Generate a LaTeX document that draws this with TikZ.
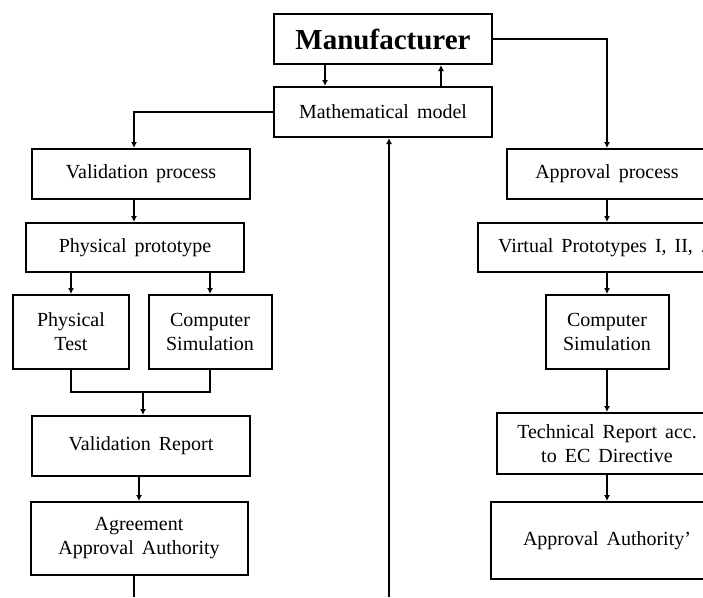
\documentclass[tikz,border=0pt]{standalone}
\usepackage{fontspec}
\setmainfont{Liberation Serif}[WordSpace=1.6]
\usetikzlibrary{arrows.meta}
\usetikzlibrary{positioning}
\usetikzlibrary{math}
\tikzstyle{box} = [rectangle, draw=black, line width=2pt, fill=white, align=center, inner sep=0pt, font=\fontsize{20}{24}\selectfont]
\tikzstyle{arrow} = [-{Latex[length=6pt,width=6pt]}]

\begin{document}
\begin{tikzpicture}[x=1pt, y=-1pt, line width=1.8pt]

  \tikzmath{\xl = 141; \xm = 383; \xr = 607;}

  \useasboundingbox[fill=white] (0,0) rectangle (703,597);
  \clip (0,0) rectangle (703,597);

  \node[box, minimum width=218pt, minimum height=50pt, font=\fontsize{29}{33}\selectfont\bfseries] (man) at (\xm,39) {Manufacturer};
  \node[box, minimum width=218pt, minimum height=50pt] (math) at (\xm,112) {Mathematical model};

  % left column
  \node[box, minimum width=218pt, minimum height=50pt] (valp) at (\xl,174) {Validation process};
  \node[box, minimum width=218pt, minimum height=49pt] (phys) at (135,247.5) {Physical prototype};
  \node[box, minimum width=116pt, minimum height=74pt] (ptest) at (71,332) {Physical\\Test};
  \node[box, minimum width=123pt, minimum height=74pt] (csim) at (210,332) {Computer\\Simulation};
  \node[box, minimum width=218pt, minimum height=60pt] (vrep) at (\xl,446) {Validation Report};
  \node[box, minimum width=217pt, minimum height=73pt] (agree) at (139,538.5) {Agreement\\Approval Authority};

  % right column
  \node[box, minimum width=200pt, minimum height=50pt] (appr) at (\xr,174) {Approval process};
  \node[box, minimum width=258pt, minimum height=49pt] (virt) at (\xr,247.5) {Virtual Prototypes I, II, ...};
  \node[box, minimum width=123pt, minimum height=74pt] (rsim) at (\xr,332) {Computer\\Simulation};
  \node[box, minimum width=220pt, minimum height=61pt] (trep) at (\xr,443.5) {Technical Report acc.\\to EC Directive};
  \node[box, minimum width=232pt, minimum height=77pt] (auth) at (\xr,540.5) {Approval Authority’};

  \coordinate (join) at (143,392);
  \coordinate (agout) at (134,597);
  \coordinate (mathin) at (389,597);

  \draw[arrow] ([xshift=-58pt]man.south) -- ([xshift=-58pt]math.north);
  \draw[arrow] ([xshift=58pt]math.north) -- ([xshift=58pt]man.south);
  \draw[arrow] (man.east) -| (appr.north);
  \draw[arrow] (math.west) -| ([xshift=-7pt]valp.north);

  \draw[arrow] ([xshift=-7pt]valp.south) -- ([xshift=-1pt]phys.north);
  \draw[arrow] (phys.south -| ptest.north) -- (ptest.north);
  \draw[arrow] (phys.south -| csim.north) -- (csim.north);
  \draw (ptest.south) |- (join) -| (csim.south);
  \draw[arrow] (join) -- (vrep.north -| join);
  \draw[arrow] (vrep.south -| agree.north) -- (agree.north);
  \draw (agree.south -| agout) -- (agout);
  \draw[arrow] (mathin) -- (math.south -| mathin);

  \draw[arrow] (appr.south) -- (virt.north);
  \draw[arrow] (virt.south) -- (rsim.north);
  \draw[arrow] (rsim.south) -- (trep.north);
  \draw[arrow] (trep.south) -- (auth.north);

\end{tikzpicture}
\end{document}
